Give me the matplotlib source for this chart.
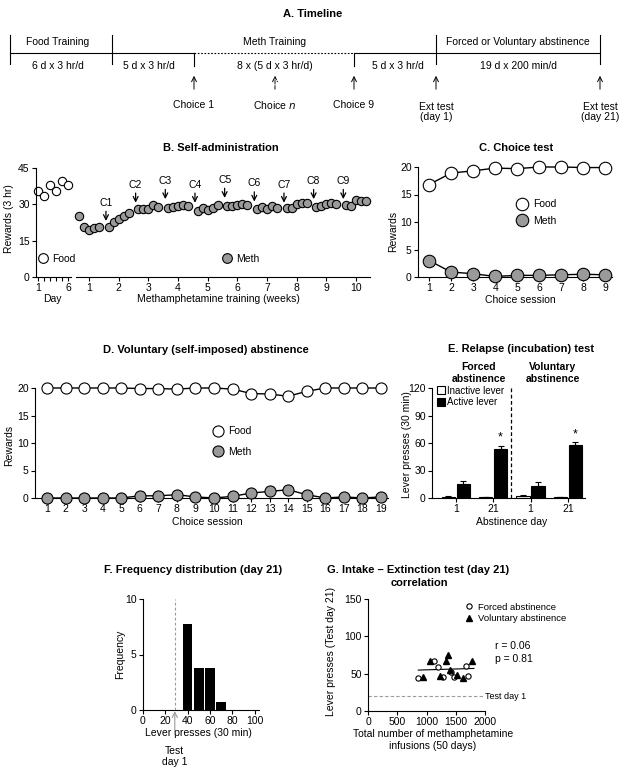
import numpy as np
import matplotlib.pyplot as plt
from matplotlib.lines import Line2D

plt.rcParams['font.family'] = ['Liberation Sans', 'DejaVu Sans']
plt.rcParams['font.size'] = 7
plt.rcParams['axes.linewidth'] = 0.8
plt.rcParams['xtick.major.width'] = 0.8
plt.rcParams['ytick.major.width'] = 0.8
plt.rcParams['xtick.major.size'] = 3
plt.rcParams['ytick.major.size'] = 3
plt.rcParams['xtick.major.pad'] = 1.5
plt.rcParams['ytick.major.pad'] = 1.5
plt.rcParams['xtick.labelsize'] = 7.5
plt.rcParams['ytick.labelsize'] = 7.5
plt.rcParams['axes.labelsize'] = 7.5

GREY = '#9a9a9a'

# ---- data ----
# B. self-administration
food_days = [1, 2, 3, 4, 5, 6]
food_rewards = [35.4, 33.3, 38.1, 35.5, 39.5, 38.1]
weeks = list(range(1, 11))
meth_rewards = [
    [25.0, 20.6, 19.5, 20.4, 20.6],
    [20.6, 22.7, 23.8, 25.0, 26.4],
    [27.9, 27.9, 28.2, 29.6, 28.9],
    [28.5, 28.9, 29.3, 29.6, 29.2],
    [27.1, 28.6, 27.8, 28.6, 29.6],
    [29.2, 29.2, 29.6, 30.0, 29.8],
    [28.1, 28.9, 28.2, 29.2, 28.5],
    [28.5, 28.5, 30.3, 30.7, 30.5],
    [28.9, 29.2, 30.3, 30.7, 30.3],
    [29.6, 29.2, 31.6, 31.2, 31.4],
]
choice_labels = ['C1', 'C2', 'C3', 'C4', 'C5', 'C6', 'C7', 'C8', 'C9']
choice_tip = [22.0, 29.5, 31.0, 29.5, 31.5, 30.0, 29.5, 31.0, 31.0]

# C. choice test
c_sessions = list(range(1, 10))
c_food = [16.8, 18.9, 19.3, 19.8, 19.7, 20.0, 20.0, 19.9, 19.9]
c_meth = [3.0, 0.9, 0.6, 0.1, 0.3, 0.3, 0.4, 0.5, 0.4]

# D. voluntary abstinence
d_sessions = list(range(1, 20))
d_food = [20, 20, 20, 20, 20, 19.9, 19.9, 19.8, 20, 20, 19.8, 19.0, 18.9, 18.5, 19.4, 20, 20, 20, 20]
d_meth = [0, 0, 0, 0, 0, 0.4, 0.4, 0.6, 0.2, 0, 0.3, 0.9, 1.2, 1.5, 0.6, 0, 0.2, 0, 0.2]

# E. relapse test
e_groups = ['1', '21', '1', '21']
e_inactive = [1.5, 1.0, 2.0, 1.0]
e_inactive_err = [0.5, 0.5, 1.0, 0.5]
e_active = [15.3, 53.5, 13.5, 57.5]
e_active_err = [3.7, 3.5, 3.5, 3.5]

# F. frequency distribution
f_bins = [40, 50, 60, 70]
f_freq = [7.75, 3.75, 3.75, 0.75]

# G. correlation
forced_x = [852, 1136, 1205, 1290, 1415, 1472, 1670, 1716]
forced_y = [43.6, 66.9, 59.3, 45.8, 51.6, 45.8, 60.6, 46.7]
vol_x = [938, 1063, 1233, 1335, 1375, 1403, 1528, 1630, 1784]
vol_y = [45.8, 66.9, 47.1, 66.5, 75.0, 54.8, 48.0, 44.5, 67.4]
fit_x = [860, 1810]
fit_y = [54.8, 57.0]

W, H = 626, 775
fig = plt.figure(figsize=(W / 100, H / 100), dpi=100)


def box(l, t, r, b):
    return [l / W, 1 - b / H, (r - l) / W, (b - t) / H]


def ftext(x, y, s, **kw):
    kw.setdefault('ha', 'center')
    kw.setdefault('va', 'center')
    fig.text(x / W, 1 - y / H, s, **kw)


def style(ax):
    ax.spines['top'].set_visible(False)
    ax.spines['right'].set_visible(False)
    ax.tick_params(direction='out', colors='k')


ARROW = '->,head_length=0.5,head_width=0.25'

# ---- A. Timeline ----
ax0 = fig.add_axes(box(0, 0, W, 130))
ax0.set_xlim(0, W)
ax0.set_ylim(130, 0)
ax0.axis('off')
ftext(313, 14, 'A. Timeline', fontweight='bold', fontsize=8)
lw = 0.8
ax0.plot([10, 194], [53, 53], color='k', lw=lw)
ax0.plot([194, 354], [53, 53], color='k', lw=lw, ls=(0, (1.5, 1.5)))
ax0.plot([354, 600], [53, 53], color='k', lw=lw)
for x in [10, 112, 436, 600]:
    ax0.plot([x, x], [35, 64], color='k', lw=lw)
for x in [194, 354]:
    ax0.plot([x, x], [53, 66], color='k', lw=lw)
for x, ls in [(194, '-'), (275, '--'), (354, '-'), (436, '-'), (600, '-')]:
    ax0.annotate('', xy=(x, 73), xytext=(x, 92),
                 arrowprops=dict(arrowstyle=ARROW, lw=0.7, ls=ls))
tfs = 7.5
for x, s in [(58, 'Food Training'), (275, 'Meth Training'), (518, 'Forced or Voluntary abstinence')]:
    ax0.text(x, 42, s, ha='center', va='center', fontsize=tfs)
for x, s in [(58, '6 d x 3 hr/d'), (149, '5 d x 3 hr/d'), (275, '8 x (5 d x 3 hr/d)'),
             (398, '5 d x 3 hr/d'), (518, '19 d x 200 min/d')]:
    ax0.text(x, 66, s, ha='center', va='center', fontsize=tfs)
for x, s in [(194, 'Choice 1'), (275, 'Choice $\\it{n}$'), (354, 'Choice 9')]:
    ax0.text(x, 105, s, ha='center', va='center', fontsize=tfs)
for x, s in [(436, 'Ext test\n(day 1)'), (600, 'Ext test\n(day 21)')]:
    ax0.text(x, 112, s, ha='center', va='center', fontsize=tfs, linespacing=1.1)

# ---- B. Self-administration ----
ftext(221, 148, 'B. Self-administration', fontweight='bold', fontsize=8)
axf = fig.add_axes(box(36, 168, 71, 277))
axm = fig.add_axes(box(76, 168, 370, 277))
for ax in (axf, axm):
    style(ax)
    ax.set_ylim(0, 45)
    ax.set_facecolor('none')
axf.set_xlim(0.67, 6.5)
axf.set_yticks([0, 15, 30, 45])
axf.set_xticks(food_days)
axf.set_xticklabels(['1', '', '', '', '', '6'])
axf.plot(food_days, food_rewards, 'o', ms=6, mfc='white', mec='k', mew=0.8, clip_on=False)
axf.set_ylabel('Rewards (3 hr)')
axf.yaxis.set_label_coords(-0.62, 0.54)
axf.set_xlabel('Day')
axf.xaxis.set_label_coords(0.46, -0.155)
axf.legend(handles=[Line2D([], [], marker='o', ls='', ms=7, mfc='white', mec='k', mew=0.8)],
           labels=['Food'], loc='center left', bbox_to_anchor=(0.057, 0.165), frameon=False,
           handlelength=1, handletextpad=0.4, borderpad=0, borderaxespad=0, fontsize=7.5)

axm.spines['left'].set_visible(False)
axm.tick_params(left=False, labelleft=False)
axm.set_xlim(0.56, 10.47)
axm.set_xticks(weeks)
offs = np.array([-2, -1, 0, 1, 2]) * 0.17
for w, vals in zip(weeks, meth_rewards):
    axm.plot(w + offs, vals, 'o', ms=6, mfc=GREY, mec='k', mew=0.8, clip_on=False)
for i, (lab, tip) in enumerate(zip(choice_labels, choice_tip)):
    cx = weeks[i] + 0.57
    axm.annotate('', xy=(cx, tip), xytext=(cx, tip + 6.3),
                 arrowprops=dict(arrowstyle=ARROW, lw=0.9))
    axm.text(cx, tip + 6.6, lab, ha='center', va='bottom', fontsize=7.5)
axm.set_xlabel('Methamphetamine training (weeks)')
axm.xaxis.set_label_coords(0.486, -0.155)
axm.legend(handles=[Line2D([], [], marker='o', ls='', ms=7, mfc=GREY, mec='k', mew=0.8)],
           labels=['Meth'], loc='center left', bbox_to_anchor=(0.497, 0.165), frameon=False,
           handlelength=1, handletextpad=0.3, borderpad=0, borderaxespad=0, fontsize=7.5)

# ---- C. Choice test ----
ftext(516, 148, 'C. Choice test', fontweight='bold', fontsize=8)
axc = fig.add_axes(box(418, 167, 612, 277))
style(axc)
axc.set_xlim(0.5, 9.3)
axc.set_ylim(0, 20)
axc.set_yticks([0, 5, 10, 15, 20])
axc.set_xticks(c_sessions)
axc.plot(c_sessions, c_meth, '-o', color='k', lw=1, ms=9, mfc=GREY, mec='k', mew=0.8, clip_on=False, zorder=3)
axc.plot(c_sessions, c_food, '-o', color='k', lw=1, ms=9, mfc='white', mec='k', mew=0.8, clip_on=False, zorder=3)
axc.set_ylabel('Rewards')
axc.yaxis.set_label_coords(-0.105, 0.41)
axc.set_xlabel('Choice session')
axc.xaxis.set_label_coords(0.526, -0.16)
axc.legend(handles=[Line2D([], [], marker='o', ls='', ms=9, mfc='white', mec='k', mew=0.8),
                    Line2D([], [], marker='o', ls='', ms=9, mfc=GREY, mec='k', mew=0.8)],
           labels=['Food', 'Meth'], loc='center left', bbox_to_anchor=(0.51, 0.586), frameon=False,
           handlelength=1, handletextpad=0.55, labelspacing=0.65, borderpad=0, borderaxespad=0,
           fontsize=7.5)

# ---- D. Voluntary abstinence ----
ftext(206, 350, 'D. Voluntary (self-imposed) abstinence', fontweight='bold', fontsize=8)
axd = fig.add_axes(box(35, 388, 388, 498))
style(axd)
axd.set_xlim(0.35, 19.38)
axd.set_ylim(0, 20)
axd.set_yticks([0, 5, 10, 15, 20])
axd.set_xticks(d_sessions)
axd.plot(d_sessions, d_meth, '-o', color='k', lw=1, ms=8, mfc=GREY, mec='k', mew=0.8, clip_on=False, zorder=3)
axd.plot(d_sessions, d_food, '-o', color='k', lw=1, ms=8, mfc='white', mec='k', mew=0.8, clip_on=False, zorder=3)
axd.set_ylabel('Rewards')
axd.yaxis.set_label_coords(-0.06, 0.48)
axd.set_xlabel('Choice session')
axd.xaxis.set_label_coords(0.487, -0.17)
axd.legend(handles=[Line2D([], [], marker='o', ls='', ms=8, mfc='white', mec='k', mew=0.8),
                    Line2D([], [], marker='o', ls='', ms=8, mfc=GREY, mec='k', mew=0.8)],
           labels=['Food', 'Meth'], loc='center left', bbox_to_anchor=(0.504, 0.514), frameon=False,
           handlelength=1, handletextpad=0.45, labelspacing=1.0, borderpad=0, borderaxespad=0,
           fontsize=7.5)

# ---- E. Relapse test ----
ftext(521, 349, 'E. Relapse (incubation) test', fontweight='bold', fontsize=8)
ftext(479, 373, 'Forced\nabstinence', fontweight='bold', fontsize=7.5, linespacing=1.15)
ftext(553, 373, 'Voluntary\nabstinence', fontweight='bold', fontsize=7.5, linespacing=1.15)
axe = fig.add_axes(box(432, 388, 585, 498))
style(axe)
xs = np.arange(1, len(e_groups) + 1)
axe.set_xlim(0.36, 4.46)
axe.set_ylim(0, 120)
axe.set_yticks([0, 30, 60, 90, 120])
axe.set_xticks(xs)
axe.set_xticklabels(e_groups)
bw = 0.36
axe.bar(xs - 0.2, e_inactive, bw, color='white', edgecolor='k', lw=0.8, label='Inactive lever',
        yerr=[np.zeros(4), e_inactive_err], error_kw=dict(lw=0.8, capsize=2, capthick=0.8))
axe.bar(xs + 0.2, e_active, bw, color='black', edgecolor='k', lw=0.8, label='Active lever',
        yerr=[np.zeros(4), e_active_err], error_kw=dict(lw=0.8, capsize=2, capthick=0.8))
axe.axvline(2.47, color='k', lw=0.9, ls=(0, (3, 2)))
for i in [1, 3]:
    axe.text(xs[i] + 0.2, e_active[i] + e_active_err[i] + 2, '*', ha='center', va='bottom', fontsize=9)
axe.set_ylabel('Lever presses (30 min)')
axe.yaxis.set_label_coords(-0.13, 0.49)
axe.set_xlabel('Abstinence day')
axe.xaxis.set_label_coords(0.52, -0.17)
axe.legend(loc='upper left', bbox_to_anchor=(0.03, 1.02), frameon=False, handlelength=0.9,
           handleheight=0.9, handletextpad=0.2, labelspacing=0.15, borderpad=0, borderaxespad=0,
           fontsize=7)

# ---- F. Frequency distribution ----
ftext(193, 570, 'F. Frequency distribution (day 21)', fontweight='bold', fontsize=8)
axF = fig.add_axes(box(143, 599, 259, 710))
style(axF)
axF.set_xlim(0, 104)
axF.set_ylim(0, 10)
axF.set_xticks([0, 20, 40, 60, 80, 100])
axF.set_yticks([0, 5, 10])
axF.bar(f_bins, f_freq, 8.5, color='black')
axF.axvline(28.5, color=GREY, lw=0.8, ls=(0, (2.5, 2)))
axF.annotate('Test\nday 1', xy=(28.5, -0.1), xycoords='data', xytext=(0, -25),
             textcoords='offset points', ha='center', va='top', fontsize=7.5, linespacing=1.2,
             annotation_clip=False,
             arrowprops=dict(arrowstyle=ARROW, color=GREY, lw=0.8, shrinkA=6, shrinkB=0))
axF.set_ylabel('Frequency')
axF.yaxis.set_label_coords(-0.15, 0.5)
axF.set_xlabel('Lever presses (30 min)')
axF.xaxis.set_label_coords(0.48, -0.16)

# ---- G. Correlation ----
ftext(418, 570, 'G. Intake \u2013 Extinction test (day 21)', fontweight='bold', fontsize=8)
ftext(419, 583, 'correlation', fontweight='bold', fontsize=8)
axG = fig.add_axes(box(368, 599, 485, 711))
style(axG)
axG.set_xlim(0, 2000)
axG.set_ylim(0, 150)
axG.set_xticks([0, 500, 1000, 1500, 2000])
axG.set_yticks([0, 50, 100, 150])
axG.plot(fit_x, fit_y, color='k', lw=0.8)
axG.plot(forced_x, forced_y, 'o', ms=3.8, mfc='white', mec='k', mew=0.8, label='Forced abstinence')
axG.plot(vol_x, vol_y, '^', ms=4.2, color='k', label='Voluntary abstinence')
axG.plot([0, 1975], [20, 20], color=GREY, lw=0.8, ls=(0, (3, 2)), clip_on=False)
axG.text(2000, 20, 'Test day 1', ha='left', va='center', fontsize=6.5)
axG.text(2170, 87.6, 'r = 0.06', ha='left', va='center', fontsize=7.5)
axG.text(2170, 69.6, 'p = 0.81', ha='left', va='center', fontsize=7.5)
axG.set_ylabel('Lever presses (Test day 21)')
axG.yaxis.set_label_coords(-0.27, 0.53)
axG.set_xlabel('Total number of methamphetamine\ninfusions (50 days)', linespacing=1.2)
axG.xaxis.set_label_coords(0.556, -0.16)
axG.legend(loc='center left', bbox_to_anchor=(0.82, 0.875), frameon=False, handlelength=1,
           handletextpad=0.5, labelspacing=0.3, borderpad=0, borderaxespad=0, fontsize=6.8)

fig.savefig('out.png', dpi=100)
